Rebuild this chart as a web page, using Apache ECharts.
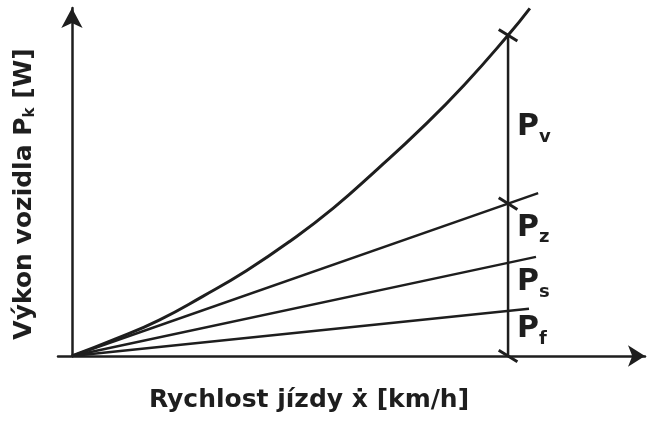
<!DOCTYPE html>
<html>
<head>
<meta charset="utf-8">
<script src="https://cdn.jsdelivr.net/npm/echarts@6/dist/echarts.min.js"></script>
<style>
html, body { margin: 0; background: #fff; }
#chart { width: 649px; height: 421px; }
</style>
</head>
<body>
<div id="chart"></div>
<script>
// total power curve
var curvePts = [[0, 0], [10, 5.3], [20, 11.2], [30, 18.6], [40, 26.6], [50, 35.8], [60, 46.2], [70, 58.2], [80, 70.8], [90, 84.6], [100, 100], [105, 108.4]];
// partial power lines
var lineZ = [[0, 0], [106.9, 50.8]];
var lineS = [[0, 0], [106.4, 30.9]];
var lineF = [[0, 0], [104.8, 14.7]];
// chosen speed and the marked values on it
var speedMark = 100;
var markVals = [100, 47.5, 0];
var labelSubs = ['v', 'z', 's', 'f'];
var labelVals = [71.2, 40, 23.1, 8.3];

var ink = '#1e1e1e';

function straight(data, w) {
  return {
    type: 'line',
    data: data,
    showSymbol: false,
    clip: false,
    lineStyle: { color: ink, width: w }
  };
}

var chart = echarts.init(document.getElementById('chart'));
chart.setOption({
  animation: false,
  grid: { left: 58, right: 4, top: 8, bottom: 65 },
  xAxis: {
    type: 'value',
    min: -3.2,
    max: 131.4,
    splitLine: { show: false },
    axisTick: { show: false },
    axisLabel: { show: false },
    axisLine: { lineStyle: { color: ink, width: 2.5 }, symbol: ['none', 'arrow'], symbolSize: [16, 17] }
  },
  yAxis: {
    type: 'value',
    min: 0,
    max: 108.5,
    splitLine: { show: false },
    axisTick: { show: false },
    axisLabel: { show: false },
    axisLine: { onZero: true, lineStyle: { color: ink, width: 2.5 }, symbol: ['none', 'arrow'], symbolSize: [16, 20] }
  },
  graphic: [
    {
      type: 'text',
      x: 309, y: 400,
      style: {
        text: 'Rychlost jízdy ẋ [km/h]',
        font: 'bold 25px "DejaVu Sans"',
        fill: ink,
        align: 'center',
        verticalAlign: 'middle'
      }
    },
    {
      type: 'text',
      x: 24, y: 194,
      rotation: Math.PI / 2,
      style: {
        text: 'Výkon vozidla P{s|k} [W]',
        font: 'bold 25px "DejaVu Sans"',
        fill: ink,
        align: 'center',
        verticalAlign: 'middle',
        rich: {
          s: { font: 'bold 15px "DejaVu Sans"', fill: ink, verticalAlign: 'bottom', padding: [12, 0, 0, 0] }
        }
      }
    }
  ],
  series: [
    Object.assign(straight(curvePts, 3), { smooth: true }),
    straight(lineZ, 2.5),
    straight(lineS, 2.5),
    straight(lineF, 2.5),
    straight([[speedMark, markVals[2]], [speedMark, markVals[0]]], 2.5),
    {
      type: 'scatter',
      symbol: 'rect',
      symbolSize: [22, 3],
      symbolRotate: -32,
      itemStyle: { color: ink, opacity: 1 },
      data: markVals.map(function (v) { return [speedMark, v]; })
    },
    {
      type: 'scatter',
      symbolSize: 0,
      itemStyle: { opacity: 1 },
      data: labelVals.map(function (v) { return [speedMark, v]; }),
      label: {
        show: true,
        position: 'right',
        distance: 9,
        formatter: function (p) { return '{p|P}{s|' + labelSubs[p.dataIndex] + '}'; },
        rich: {
          p: { fontFamily: 'DejaVu Sans', fontSize: 30, fontWeight: 'bold', color: ink },
          s: { fontFamily: 'DejaVu Sans', fontSize: 18, fontWeight: 'bold', color: ink, padding: [20, 0, 0, 0] }
        }
      }
    }
  ]
});
</script>
</body>
</html>
